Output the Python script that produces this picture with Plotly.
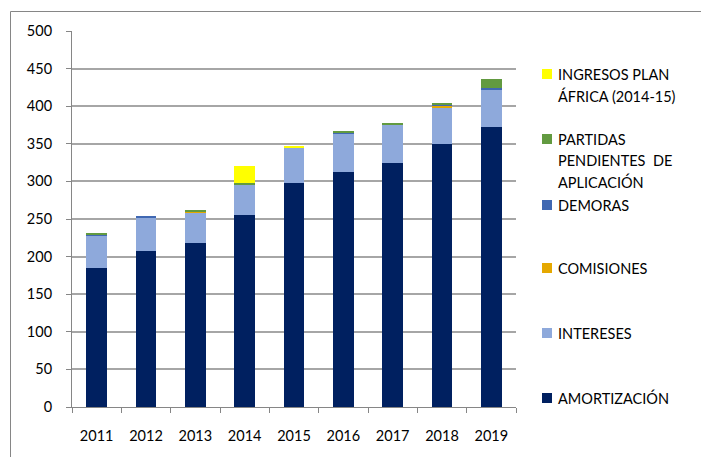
import plotly.graph_objects as go

years = ["2011", "2012", "2013", "2014", "2015", "2016", "2017", "2018", "2019"]
amortizacion = [185, 207, 218, 255, 298, 312, 325, 350, 373]
intereses = [43, 45, 41, 41, 47, 52, 50, 48, 49]
comisiones = [0, 0, 1, 0, 0, 0, 0, 2.5, 0]
demoras = [1.5, 1.5, 0.5, 0.5, 0, 0.5, 0.5, 0.5, 2]
partidas = [1, 0, 1.5, 1.5, 0, 2, 2.5, 3, 12]
ingresos = [0, 0, 0, 23, 2, 0, 0, 0, 0]

series_names = ["AMORTIZACIÓN", "INTERESES", "COMISIONES", "DEMORAS",
                "PARTIDAS PENDIENTES DE APLICACIÓN", "INGRESOS PLAN ÁFRICA (2014-15)"]
series_values = [amortizacion, intereses, comisiones, demoras, partidas, ingresos]
colors = ["#002060", "#8EA9DB", "#E5A800", "#4068B2", "#629A40", "#FFFF00"]
y_ticks = [0, 50, 100, 150, 200, 250, 300, 350, 400, 450, 500]

# legend layout: lines of text and pixel centre of first line
legend_lines = [
    ["AMORTIZACIÓN"],
    ["INTERESES"],
    ["COMISIONES"],
    ["DEMORAS"],
    ["PARTIDAS", "PENDIENTES  DE", "APLICACIÓN"],
    ["INGRESOS PLAN", "ÁFRICA (2014-15)"],
]
legend_ypx = [398, 333, 268, 205, 139, 74]

OFF = 8  # page body margin
W, H = 709 - OFF, 457 - OFF
L, R, T, B = 72 - OFF, 516 - OFF, 31 - OFF, 407 - OFF
pw, ph = R - L, B - T
FONT = "Lato"

def px_x(x):
    return (x - OFF - L) / pw

def px_y(y):
    return (B - (y - OFF)) / ph

fig = go.Figure()
for name, vals, col in zip(series_names, series_values, colors):
    fig.add_trace(go.Bar(x=years, y=vals, name=name, marker=dict(color=col, line=dict(width=0)),
                         showlegend=False))

shapes = []
annotations = []
for lines, ypx, col in zip(legend_lines, legend_ypx, colors):
    shapes.append(dict(type="rect", xref="paper", yref="paper",
                       x0=px_x(542), x1=px_x(552), y0=px_y(ypx + 5), y1=px_y(ypx - 5),
                       fillcolor=col, line=dict(width=0)))
    for i, ln in enumerate(lines):
        annotations.append(dict(text=ln, xref="paper", yref="paper", x=px_x(556),
                                y=px_y(ypx + i * 21.5), xanchor="left", yanchor="middle",
                                showarrow=False, font=dict(family=FONT, size=14.5, color="#000000")))

# outer chart frame
shapes.append(dict(type="rect", xref="paper", yref="paper",
                   x0=px_x(10.5), x1=px_x(720), y0=px_y(470), y1=px_y(11.5),
                   line=dict(color="#868686", width=1), fillcolor="rgba(0,0,0,0)", layer="below"))

fig.update_layout(
    barmode="stack",
    bargap=0.58,
    width=W, height=H,
    margin=dict(l=L, r=W - R, t=T, b=H - B),
    plot_bgcolor="white", paper_bgcolor="white",
    font=dict(family=FONT, size=14.5, color="#000000"),
    shapes=shapes, annotations=annotations,
    xaxis=dict(type="category", showline=True, linecolor="#868686", linewidth=1,
               ticks="outside", tickson="boundaries", ticklen=5, tickcolor="#868686",
               ticklabelstandoff=16, tickfont=dict(size=14.5), showgrid=False),
    yaxis=dict(range=[0, 500], tickvals=y_ticks, showline=True, linecolor="#868686", linewidth=1,
               ticks="outside", ticklen=5, tickcolor="#868686", ticklabelstandoff=11,
               showgrid=True, gridcolor="#A6A6A6", gridwidth=1.5, zeroline=False,
               tickfont=dict(size=14.5)),
)

fig.write_html("out.html")
